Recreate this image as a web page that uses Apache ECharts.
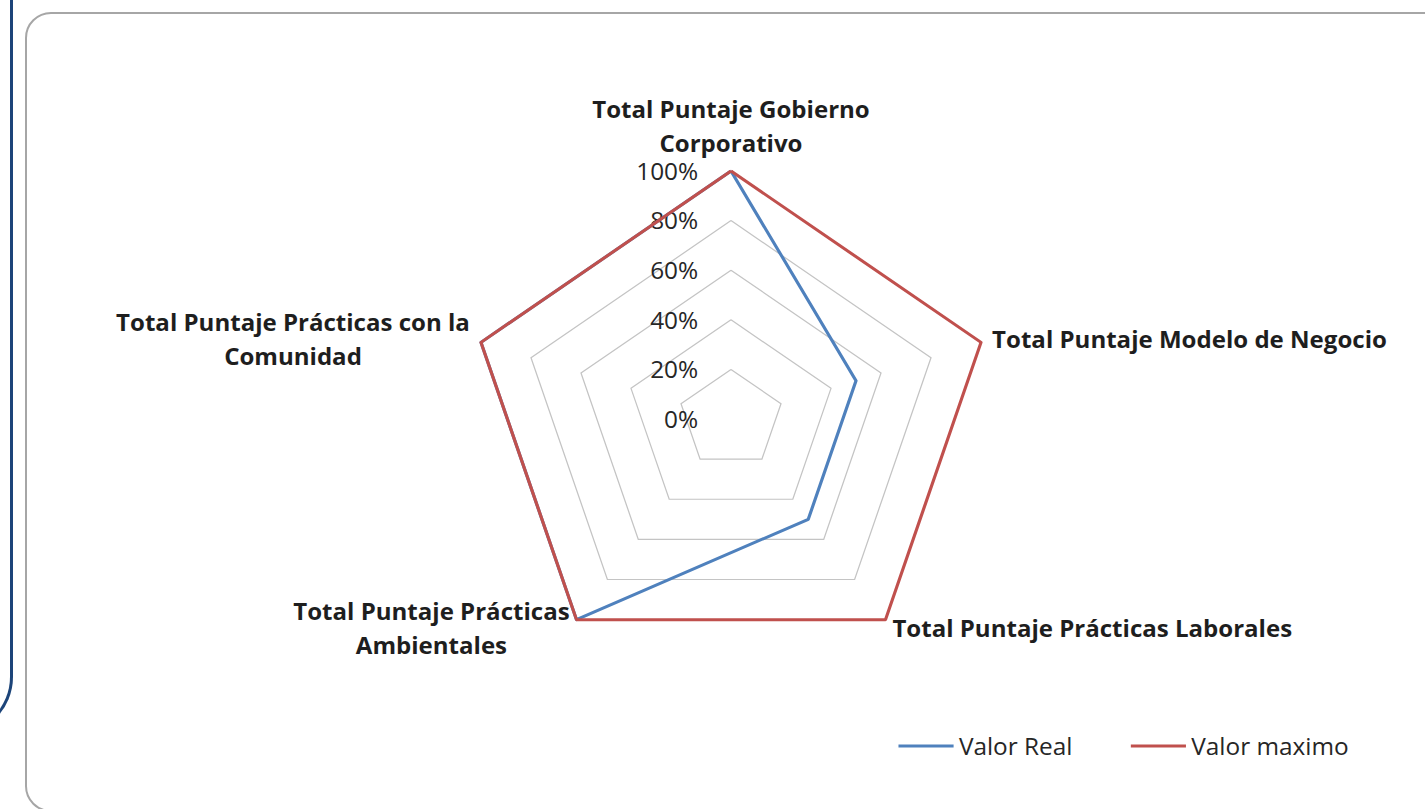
<!DOCTYPE html>
<html>
<head>
<meta charset="utf-8">
<script src="https://cdn.jsdelivr.net/npm/echarts@6/dist/echarts.min.js"></script>
<style>
  html, body { margin: 0; padding: 0; background: #ffffff; }
  #wrap { position: relative; width: 1425px; height: 809px; overflow: hidden; background: #fff; }
  #blueEdge { position: absolute; left: -60px; top: -20px; width: 70px; height: 752px;
    border-right: 3px solid #1c4479; border-bottom: 3px solid #1c4479; border-bottom-right-radius: 58px; }
  #frame { position: absolute; left: 25px; top: 12px; width: 1460px; height: 800px;
    border: 2px solid #a6a6a6; border-radius: 26px; box-sizing: border-box; }
  #chart { position: absolute; left: 0; top: 0; width: 1425px; height: 809px;
    transform: scaleX(1.06); transform-origin: 731px 0; }
</style>
</head>
<body>
<div id="wrap">
  <div id="blueEdge"></div>
  <div id="frame"></div>
  <div id="chart"></div>
</div>
<script>
// Categories in the reference's (clockwise) order, starting at the top
const categories = [
  'Total Puntaje Gobierno\nCorporativo',
  'Total Puntaje Modelo de Negocio',
  'Total Puntaje Prácticas Laborales',
  'Total Puntaje Prácticas\nAmbientales',
  'Total Puntaje Prácticas con la\nComunidad'
];
const valorReal = [1.0, 0.5, 0.5, 1.0, 1.0];
const valorMaximo = [1.0, 1.0, 1.0, 1.0, 1.0];
const seriesNames = ['Valor Real', 'Valor maximo'];
const tickValues = [0, 0.2, 0.4, 0.6, 0.8, 1.0];

// ECharts radar lays indicators counter-clockwise; reorder to appear clockwise
const order = [0, 4, 3, 2, 1];
const indicators = order.map(i => ({ name: categories[i], min: 0, max: 1 }));
const realOrdered = order.map(i => valorReal[i]);
const maxOrdered = order.map(i => valorMaximo[i]);

const nameFont = '"Open Sans", sans-serif';
const chart = echarts.init(document.getElementById('chart'), null, { renderer: 'svg' });
chart.setOption({
  backgroundColor: 'transparent',
  animation: false,
  radar: {
    center: [731, 419],
    radius: 248,
    startAngle: 90,
    splitNumber: 5,
    shape: 'polygon',
    indicator: indicators,
    axisNameGap: 11,
    axisName: {
      formatter: function (name) {
        return name.split('\n').map(s => '{n|' + s + '}').join('\n');
      },
      rich: {
        n: {
          fontFamily: nameFont, fontWeight: 'bold', fontSize: 22.7,
          color: '#1e1e1e', align: 'center', lineHeight: 34
        }
      }
    },
    axisLine: { show: false },
    axisTick: { show: false },
    axisLabel: { show: false },
    splitArea: { show: false },
    splitLine: { lineStyle: { color: '#c4c4c4', width: 1.2 } }
  },
  grid: { left: 708, width: 20, top: 171, height: 248 },
  xAxis: { type: 'value', show: false, min: 0, max: 1 },
  yAxis: {
    type: 'value', min: tickValues[0], max: tickValues[tickValues.length - 1], interval: 0.2,
    axisLine: { show: false }, axisTick: { show: false }, splitLine: { show: false },
    axisLabel: {
      margin: 8, fontFamily: nameFont, fontSize: 23, color: '#262626',
      formatter: v => Math.round(v * 100) + '%'
    }
  },
  legend: {
    data: seriesNames,
    left: 884, top: 728,
    itemWidth: 52, itemHeight: 3, itemGap: 55,
    icon: 'rect',
    textStyle: { fontFamily: nameFont, fontSize: 23, color: '#262626', lineHeight: 26 }
  },
  series: [{
    type: 'radar',
    symbol: 'none',
    data: [
      { name: seriesNames[0], value: realOrdered,
        lineStyle: { color: '#4f81bd', width: 3 }, itemStyle: { color: '#4f81bd' } },
      { name: seriesNames[1], value: maxOrdered,
        lineStyle: { color: '#c0504d', width: 3 }, itemStyle: { color: '#c0504d' } }
    ]
  }]
});
</script>
</body>
</html>
